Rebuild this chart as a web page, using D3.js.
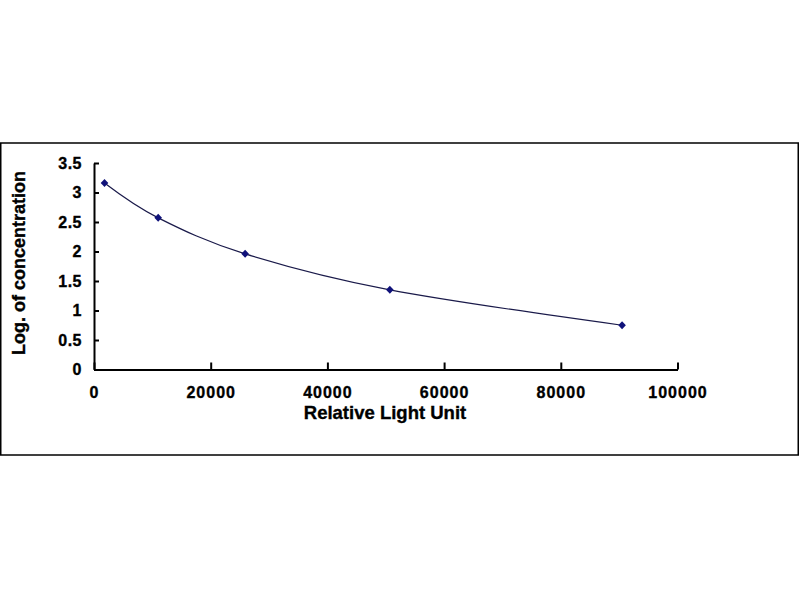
<!DOCTYPE html>
<html>
<head>
<meta charset="utf-8">
<script src="https://cdn.jsdelivr.net/npm/d3@7"></script>
<style>
  body { margin: 0; background: #fff; }
  svg { display: block; }
  .axis text { font-family: "Liberation Sans", Arial, sans-serif; font-weight: bold; font-size: 16px; fill: #000; stroke: #000; stroke-width: 0.35px; letter-spacing: 1px; }
  .title { font-family: "Liberation Sans", Arial, sans-serif; font-weight: bold; font-size: 18.5px; fill: #000; stroke: #000; stroke-width: 0.35px; }
</style>
</head>
<body>
<div id="chart"></div>
<script>
// standard curve points
const rlu = [1800, 11000, 25900, 50700, 90500]
const logConc = [3.16, 2.57, 1.96, 1.35, 0.75]
const xTicks = [0, 20000, 40000, 60000, 80000, 100000]
const yTicks = [0, 0.5, 1, 1.5, 2, 2.5, 3, 3.5]

const points = rlu.map((d, i) => ({x: d, y: logConc[i]}))

let dimensions = {
  width: 800,
  height: 600,
  margin: {top: 163, right: 122.5, bottom: 230.5, left: 94},
}
dimensions.boundedWidth = dimensions.width - dimensions.margin.left - dimensions.margin.right
dimensions.boundedHeight = dimensions.height - dimensions.margin.top - dimensions.margin.bottom

const wrapper = d3.select("#chart")
  .append("svg")
    .attr("width", dimensions.width)
    .attr("height", dimensions.height)

// outer frame
wrapper.append("rect")
  .attr("x", 0.75)
  .attr("y", 143)
  .attr("width", 797.5)
  .attr("height", 312)
  .attr("fill", "none")
  .attr("stroke", "#000")
  .attr("stroke-width", 1.5)

const bounds = wrapper.append("g")
  .attr("transform", `translate(${dimensions.margin.left},${dimensions.margin.top})`)

const xScale = d3.scaleLinear()
  .domain([0, 100000])
  .range([0, dimensions.boundedWidth])

const yScale = d3.scaleLinear()
  .domain([0, 3.5])
  .range([dimensions.boundedHeight, 0])

// axes
const xAxis = bounds.append("g")
  .attr("class", "axis")
  .attr("transform", `translate(0,${dimensions.boundedHeight})`)
  .call(d3.axisBottom(xScale)
    .tickValues(xTicks)
    .tickFormat(d3.format("d"))
    .tickSizeInner(-7)
    .tickSizeOuter(0)
    .tickPadding(17.5))
xAxis.selectAll("path, line").attr("stroke", "#000").attr("stroke-width", 2)

const yAxis = bounds.append("g")
  .attr("class", "axis")
  .call(d3.axisLeft(yScale)
    .tickValues(yTicks)
    .tickFormat(d => d)
    .tickSizeInner(-5)
    .tickSizeOuter(0)
    .tickPadding(12))
yAxis.selectAll("path, line").attr("stroke", "#000").attr("stroke-width", 2)
yAxis.selectAll("text").style("letter-spacing", "0.5px")

// smoothed line through the points
const lineGenerator = d3.line()
  .x(d => xScale(d.x))
  .y(d => yScale(d.y))
  .curve(d3.curveCatmullRom.alpha(0))

bounds.append("path")
  .attr("d", lineGenerator(points))
  .attr("fill", "none")
  .attr("stroke", "#1a1a4a")
  .attr("stroke-width", 1.2)

bounds.selectAll(".marker")
  .data(points)
  .join("path")
    .attr("class", "marker")
    .attr("transform", d => `translate(${xScale(d.x)},${yScale(d.y)})`)
    .attr("d", "M0,-4L3.8,0L0,4L-3.8,0Z")
    .attr("fill", "#10127a")

// axis titles
wrapper.append("text")
  .attr("class", "title")
  .attr("x", 385)
  .attr("y", 419)
  .attr("text-anchor", "middle")
  .text("Relative Light Unit")

wrapper.append("text")
  .attr("class", "title")
  .attr("transform", "translate(25,263) rotate(-90)")
  .attr("text-anchor", "middle")
  .style("font-size", "18px")
  .text("Log. of concentration")
</script>
</body>
</html>
